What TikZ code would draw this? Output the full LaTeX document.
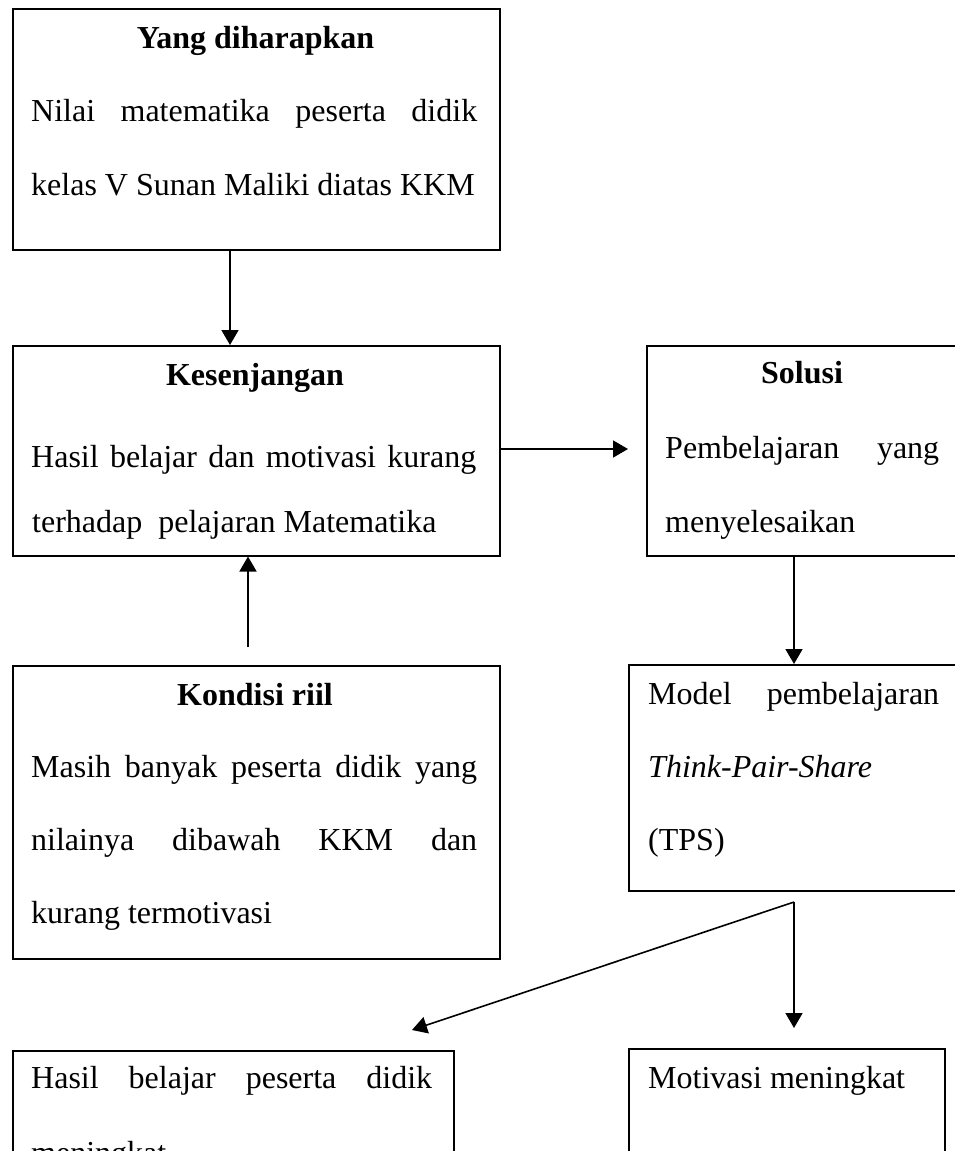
\documentclass[tikz,border=0pt]{standalone}
\usepackage{fontspec}
\setmainfont{Liberation Serif}
\usetikzlibrary{arrows.meta}
\tikzset{
  box/.style={draw, line width=1.5pt, rectangle, inner sep=0pt, anchor=north west},
  txt/.style={inner sep=0pt, anchor=base west, font=\fontsize{32pt}{38pt}\selectfont},
  head/.style={inner sep=0pt, anchor=base, font=\fontsize{32pt}{38pt}\selectfont\bfseries},
  arr/.style={line width=1.6pt, -{Triangle[width=17pt,length=15pt]}}
}
\begin{document}
\begin{tikzpicture}[x=1pt,y=-1pt]
\useasboundingbox (0,0) rectangle (955,1151);
\fill[white] (0,0) rectangle (955,1151);
\clip (0,0) rectangle (955,1151);
% boxes
\node[box, minimum width=487pt, minimum height=241pt] (exp) at (12,8) {};
\node[box, minimum width=487pt, minimum height=210pt] (gap) at (12,345) {};
\node[box, minimum width=312pt, minimum height=210pt] (sol) at (646,345) {};
\node[box, minimum width=487pt, minimum height=293pt] (real) at (12,665) {};
\node[box, minimum width=330pt, minimum height=226pt] (tps) at (628,664) {};
\node[box, minimum width=441pt, minimum height=130pt] (hasil) at (12,1050) {};
\node[box, minimum width=316pt, minimum height=130pt] (motiv) at (628,1048) {};
% texts
\node[head] (expH) at (255.5,48) {Yang diharapkan};
\node[txt] (expA) at (31,121) {\makebox[446pt][s]{Nilai matematika peserta didik}};
\node[txt] (expB) at (31,195) {kelas V Sunan Maliki diatas KKM};
\node[head] (gapH) at (255,385) {Kesenjangan};
\node[txt] (gapA) at (31,467) {\makebox[445pt][s]{Hasil belajar dan motivasi kurang}};
\node[txt] (gapB) at (32,532) {terhadap\ \ pelajaran Matematika};
\node[head] (solH) at (802,383) {Solusi};
\node[txt] (solA) at (665,458) {\makebox[274pt][s]{Pembelajaran yang}};
\node[txt] (solB) at (665,532) {menyelesaikan};
\node[head] (realH) at (255,705) {Kondisi riil};
\node[txt] (realA) at (31,777) {\makebox[446pt][s]{Masih banyak peserta didik yang}};
\node[txt] (realB) at (31,850) {\makebox[446pt][s]{nilainya dibawah KKM dan}};
\node[txt] (realC) at (31,923) {kurang termotivasi};
\node[txt] (tpsA) at (648,704) {\makebox[291pt][s]{Model pembelajaran}};
\node[txt] (tpsB) at (648,777) {\itshape Think-Pair-Share};
\node[txt] (tpsC) at (648,850) {(TPS)};
\node[txt] (hasilA) at (31,1088) {\makebox[401pt][s]{Hasil belajar peserta didik}};
\node[txt] (hasilB) at (31,1163) {meningkat};
\node[txt] (motivA) at (648,1088) {Motivasi meningkat};
% connectors
\coordinate (c1) at (230,0);
\draw[arr] (exp.south -| c1) -- (gap.north -| c1);
\coordinate (c2) at (248,647);
\draw[arr] (c2) -- (gap.south -| c2);
\coordinate (c3) at (628,449);
\draw[arr] (gap.east |- c3) -- (c3);
\coordinate (c4) at (794,0);
\draw[arr] (sol.south -| c4) -- (tps.north -| c4);
\coordinate (br) at (794,902);
\coordinate (t1) at (794,1028);
\coordinate (t2) at (412,1030);
\draw[arr] (br) -- (t1);
\draw[arr] (br) -- (t2);
\end{tikzpicture}
\end{document}
